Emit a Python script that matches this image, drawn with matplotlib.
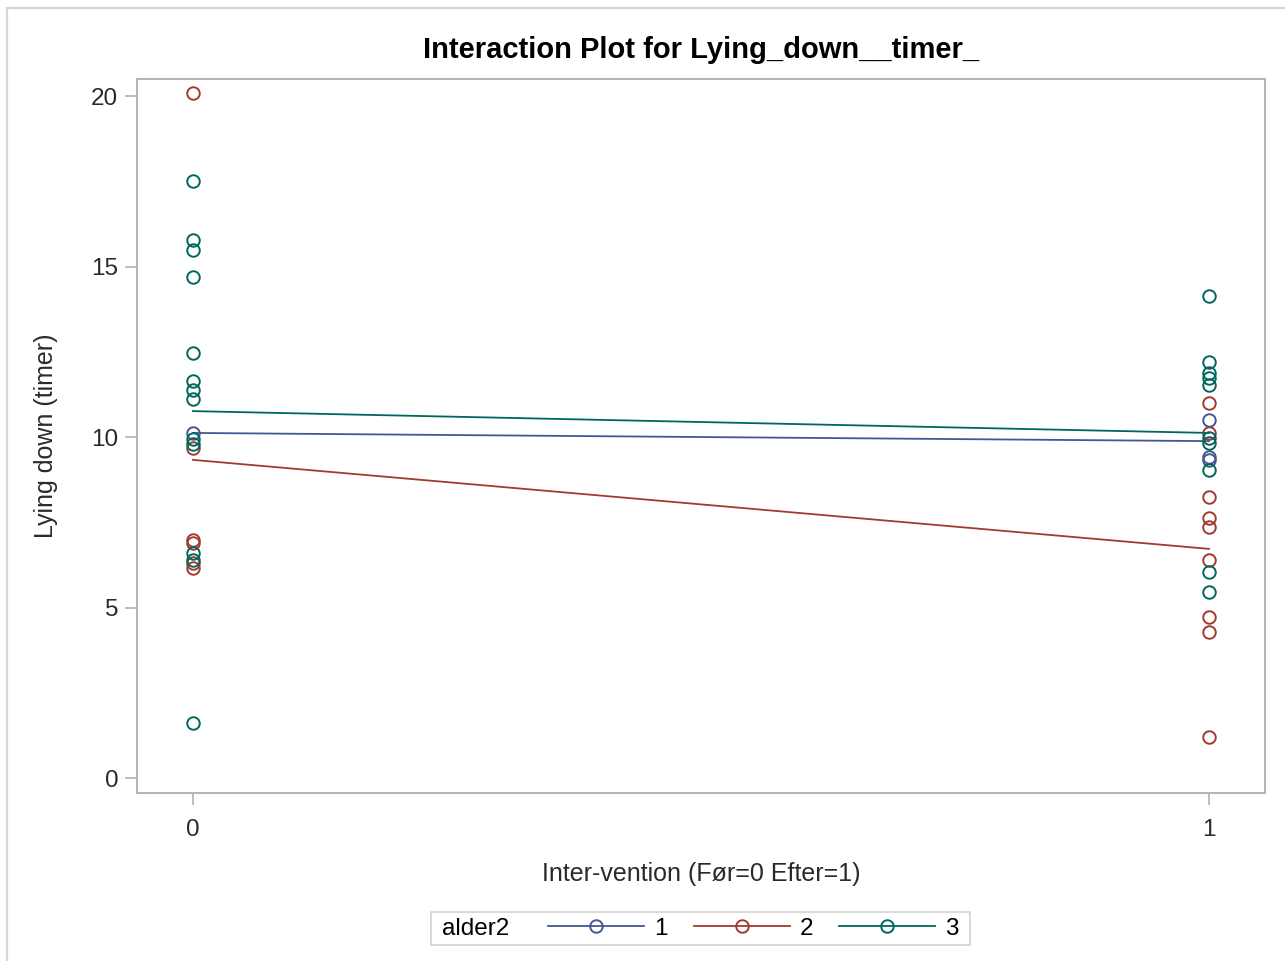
import matplotlib
matplotlib.use("Agg")
import matplotlib.pyplot as plt
from matplotlib.lines import Line2D
from matplotlib.patches import Rectangle
from matplotlib.offsetbox import HPacker, DrawingArea

plt.rcParams['font.family'] = ['Liberation Sans', 'DejaVu Sans']

# observations per age group (alder2) before (0) and after (1) the intervention
g1_x0 = [10.12]
g1_x1 = [10.50, 9.42, 9.33]
g2_x0 = [20.09, 9.68, 6.98, 6.90, 6.30, 6.16]
g2_x1 = [11.00, 10.12, 8.25, 7.62, 7.36, 6.39, 4.73, 4.29, 1.21]
g3_x0 = [17.50, 15.78, 15.48, 14.69, 12.46, 11.64, 11.38, 11.11, 9.95, 9.80,
         6.60, 6.39, 1.61]
g3_x1 = [14.13, 12.21, 11.87, 11.73, 11.52, 9.97, 9.82, 9.03, 6.05, 5.46]

# group means at 0 and 1
means = {'1': [10.12, 9.88], '2': [9.33, 6.72], '3': [10.76, 10.12]}

groups = ['1', '2', '3']
obs = {'1': (g1_x0, g1_x1), '2': (g2_x0, g2_x1), '3': (g3_x0, g3_x1)}
colors = {'1': '#445694', '2': '#A23A2E', '3': '#01665E'}

fig = plt.figure(figsize=(12.85, 9.61), dpi=100)
ax = fig.add_axes([0.1066, 0.1748, 0.8778, 0.743])

handles = []
for g in groups:
    c = colors[g]
    x0, x1 = obs[g]
    ax.plot([0] * len(x0) + [1] * len(x1), x0 + x1, linestyle='none',
            marker='o', ms=9, mfc='none', mec=c, mew=1.4)
    ax.plot([0, 1], means[g], color=c, lw=1.3)
    handles.append(Line2D([], [], color=c, lw=1.3, marker='o', ms=9,
                          mfc='none', mec=c, mew=1.4))

ax.set_xlim(-0.0551, 1.0551)
ax.set_ylim(-0.44, 20.5)
ax.set_xticks([0, 1])
ax.set_yticks([0, 5, 10, 15, 20])
for s in ax.spines.values():
    s.set_color('#B0B4B8')
    s.set_linewidth(1.4)
ax.tick_params(colors='#B0B4B8', labelcolor='#2A2A2A', length=8.5, width=1.2,
               labelsize=17.5)
ax.tick_params(axis='x', pad=10)
ax.tick_params(axis='y', pad=5)
ax.set_title('Interaction Plot for Lying_down__timer_', fontsize=21,
             fontweight='bold', pad=15)
ax.set_xlabel('Inter-vention (Før=0 Efter=1)', fontsize=18, labelpad=15,
              color='#2A2A2A')
ax.set_ylabel('Lying down (timer)', fontsize=18, labelpad=24, color='#2A2A2A')

leg = fig.legend(handles, groups, loc='center', bbox_to_anchor=(0.5451, 0.0338),
                 ncol=3, title='alder2', fontsize=17.5, title_fontsize=17.5,
                 handlelength=3.95, handletextpad=0.41, columnspacing=1.07,
                 numpoints=1, frameon=True, fancybox=False,
                 edgecolor='#C8C8C8')
leg.get_frame().set_linewidth(1.2)
# title sits to the left of the entries, on one row
box = HPacker(pad=3.8, sep=0, align='center',
              children=[DrawingArea(4, 0), leg._legend_title_box,
                        DrawingArea(28, 0), leg._legend_handle_box,
                        DrawingArea(4, 0)])
box.set_figure(fig)
box.axes = leg.axes
box.set_offset(leg._findoffset)
leg._legend_box = box

# outer border
fig.patches.append(Rectangle((7 / 1285, -0.1), 1.2, 1.1 - 8 / 961,
                             transform=fig.transFigure, fill=False,
                             edgecolor='#D6D6D6', lw=1.6))

fig.savefig('out.png', dpi=100)
